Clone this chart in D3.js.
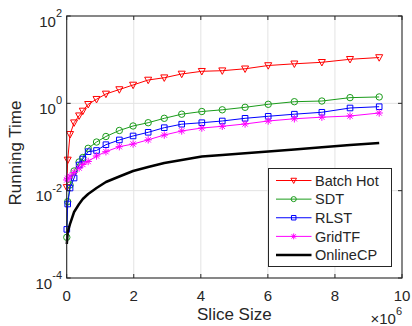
<!DOCTYPE html>
<html>
<head>
<meta charset="utf-8">
<script src="https://cdn.jsdelivr.net/npm/d3@7/dist/d3.min.js"></script>
<style>
  html, body { margin: 0; padding: 0; background: #fff; }
  svg { display: block; font-family: "Liberation Sans", Arial, sans-serif; }
</style>
</head>
<body>
<div id="chart"></div>
<script>
// slice size in units of 1e6
const sliceSize = [0.003, 0.03, 0.1, 0.22, 0.37, 0.48, 0.64, 0.89, 1.17, 1.57, 1.98, 2.43, 2.91, 3.43, 4.03, 4.64, 5.32, 6.01, 6.79, 7.61, 8.45, 9.32];
const batchHot = [0.0119, 0.0505, 0.195, 0.36, 0.52, 0.668, 0.95, 1.24, 1.64, 2.07, 2.63, 3.42, 3.86, 4.7, 5.42, 5.59, 6.18, 7.35, 8.04, 8.7, 10.2, 11.2];
const sdt = [0.000855, 0.0056, 0.0135, 0.0282, 0.0454, 0.0575, 0.0934, 0.130, 0.174, 0.239, 0.303, 0.36, 0.454, 0.564, 0.65, 0.711, 0.811, 0.95, 1.09, 1.13, 1.35, 1.40];
const rlst = [0.0013, 0.00495, 0.0115, 0.0195, 0.0387, 0.0531, 0.0781, 0.0832, 0.113, 0.145, 0.179, 0.217, 0.277, 0.333, 0.36, 0.394, 0.454, 0.505, 0.564, 0.624, 0.782, 0.838];
const gridTF = [0.0176, 0.0192, 0.0217, 0.0261, 0.033, 0.0398, 0.0466, 0.0622, 0.0781, 0.1017, 0.117, 0.146, 0.188, 0.233, 0.272, 0.298, 0.337, 0.394, 0.443, 0.482, 0.513, 0.601];
const onlineCP = [0.0006, 0.00113, 0.00173, 0.00325, 0.00495, 0.00644, 0.0084, 0.0115, 0.0158, 0.0211, 0.0282, 0.0348, 0.043, 0.0505, 0.0607, 0.0656, 0.0718, 0.0789, 0.0877, 0.0984, 0.111, 0.124];

const xTicks = [0, 2, 4, 6, 8, 10];
const yTickExp = [2, 0, -2, -4];

const series = [
  { name: 'Batch Hot', values: batchHot, color: '#ff0000', marker: 'triDown', width: 1 },
  { name: 'SDT', values: sdt, color: '#1b9c1b', marker: 'circle', width: 1 },
  { name: 'RLST', values: rlst, color: '#0000ff', marker: 'square', width: 1 },
  { name: 'GridTF', values: gridTF, color: '#ff00ff', marker: 'star', width: 1 },
  { name: 'OnlineCP', values: onlineCP, color: '#000000', marker: null, width: 2.5 }
];

const W = 412, H = 326;
const plot = { left: 66.7, right: 402, top: 16, bottom: 278 };
const ink = '#262626';

const svg = d3.select('#chart').append('svg')
  .attr('width', W)
  .attr('height', H);

const x = d3.scaleLinear().domain([0, 10]).range([plot.left, plot.right]);
const y = d3.scaleLog().domain([1e-4, 1e2]).range([plot.bottom, plot.top]);

// marker shapes
function markerPath(type, s) {
  const h = s / 2;
  if (type === 'triDown') return `M${-h},${-h * 0.8}L${h},${-h * 0.8}L0,${h * 1.05}Z`;
  if (type === 'square') return `M${-h},${-h}H${h}V${h}H${-h}Z`;
  if (type === 'circle') return d3.arc()({ innerRadius: 0, outerRadius: h, startAngle: 0, endAngle: 2 * Math.PI });
  if (type === 'star') {
    const d = h * 0.72;
    return `M${-h},0H${h}M0,${-h}V${h}M${-d},${-d}L${d},${d}M${-d},${d}L${d},${-d}`;
  }
  return '';
}
const markerSize = { triDown: 7, square: 5.6, circle: 6.4, star: 7.4 };

// grid
const grid = svg.append('g').attr('stroke', '#e3e3e3').attr('stroke-width', 1);
grid.selectAll('.gx').data(xTicks.slice(1, -1)).enter().append('line')
  .attr('x1', d => x(d)).attr('x2', d => x(d))
  .attr('y1', plot.top).attr('y2', plot.bottom);
grid.selectAll('.gy').data(yTickExp.slice(1, -1)).enter().append('line')
  .attr('x1', plot.left).attr('x2', plot.right)
  .attr('y1', d => y(Math.pow(10, d))).attr('y2', d => y(Math.pow(10, d)));

// lines and markers
const line = d3.line()
  .x((d, i) => x(sliceSize[i]))
  .y(d => y(d));

series.forEach(s => {
  svg.append('path')
    .datum(s.values)
    .attr('d', line)
    .attr('fill', 'none')
    .attr('stroke', s.color)
    .attr('stroke-width', s.width)
    .attr('stroke-linejoin', 'round');

  if (s.marker) {
    svg.append('g').selectAll('path')
      .data(s.values)
      .enter().append('path')
      .attr('transform', (d, i) => `translate(${x(sliceSize[i])},${y(d)})`)
      .attr('d', markerPath(s.marker, markerSize[s.marker]))
      .attr('fill', 'none')
      .attr('stroke', s.color)
      .attr('stroke-width', 1);
  }
});

// axes box with inward ticks
const axes = svg.append('g').attr('stroke', ink).attr('fill', 'none');
axes.append('rect')
  .attr('x', plot.left).attr('y', plot.top)
  .attr('width', plot.right - plot.left).attr('height', plot.bottom - plot.top)
  .attr('stroke-width', 1.1);
const tl = 4;
xTicks.forEach(t => {
  axes.append('line').attr('x1', x(t)).attr('x2', x(t)).attr('y1', plot.bottom).attr('y2', plot.bottom - tl);
  axes.append('line').attr('x1', x(t)).attr('x2', x(t)).attr('y1', plot.top).attr('y2', plot.top + tl);
});
yTickExp.forEach(e => {
  const yy = y(Math.pow(10, e));
  axes.append('line').attr('x1', plot.left).attr('x2', plot.left + tl).attr('y1', yy).attr('y2', yy);
  axes.append('line').attr('x1', plot.right).attr('x2', plot.right - tl).attr('y1', yy).attr('y2', yy);
});

// tick labels
svg.append('g').selectAll('text')
  .data(xTicks).enter().append('text')
  .attr('x', d => x(d))
  .attr('y', 300.5)
  .attr('text-anchor', 'middle')
  .attr('font-size', 15)
  .attr('fill', ink)
  .text(d => d);

const yl = svg.append('g').selectAll('text')
  .data(yTickExp).enter().append('text')
  .attr('x', 62)
  .attr('y', d => y(Math.pow(10, d)) + 10.5)
  .attr('text-anchor', 'end')
  .attr('font-size', 15)
  .attr('fill', ink);
yl.append('tspan').text('10');
yl.append('tspan').attr('dy', -9.5).attr('font-size', 11).text(d => d < 0 ? '-' + Math.abs(d) : d);

// axis labels
svg.append('text')
  .attr('x', (plot.left + plot.right) / 2)
  .attr('y', 319.5)
  .attr('text-anchor', 'middle')
  .attr('font-size', 17)
  .attr('fill', ink)
  .text('Slice Size');

svg.append('text')
  .attr('transform', `translate(21,${(plot.top + plot.bottom) / 2 + 6}) rotate(-90)`)
  .attr('text-anchor', 'middle')
  .attr('font-size', 17)
  .attr('fill', ink)
  .text('Running Time');

const mult = svg.append('text')
  .attr('x', 402)
  .attr('y', 323.5)
  .attr('text-anchor', 'end')
  .attr('font-size', 15)
  .attr('fill', ink);
mult.append('tspan').text('\u00d710');
mult.append('tspan').attr('dy', -8.5).attr('font-size', 11).text('6');

// legend
const leg = svg.append('g');
leg.append('rect')
  .attr('x', 268.5).attr('y', 168.5)
  .attr('width', 123).attr('height', 98)
  .attr('fill', '#fff')
  .attr('stroke', ink)
  .attr('stroke-width', 1);

const legY = d3.scalePoint().domain(series.map(s => s.name)).range([180.5, 255]);
series.forEach(s => {
  const g = leg.append('g').attr('transform', `translate(0,${legY(s.name)})`);
  g.append('line')
    .attr('x1', 276).attr('x2', 311.5)
    .attr('y1', 0).attr('y2', 0)
    .attr('stroke', s.color)
    .attr('stroke-width', s.width);
  if (s.marker) {
    g.append('path')
      .attr('transform', 'translate(293.7,0)')
      .attr('d', markerPath(s.marker, markerSize[s.marker] * 0.8))
      .attr('fill', 'none')
      .attr('stroke', s.color);
  }
  g.append('text')
    .attr('x', 315)
    .attr('y', 5.2)
    .attr('font-size', 14.5)
    .attr('fill', ink)
    .text(s.name);
});
</script>
</body>
</html>
